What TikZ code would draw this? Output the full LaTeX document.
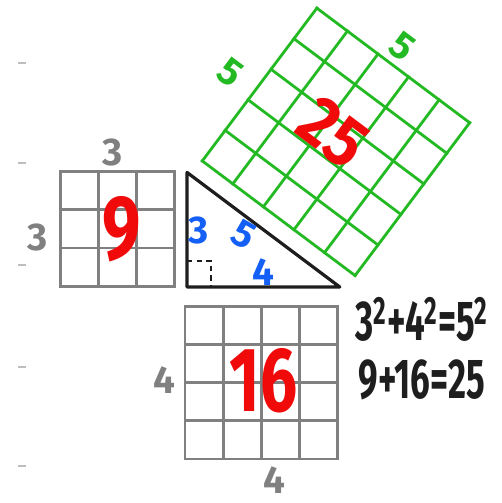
\documentclass[tikz,border=0pt]{standalone}
\usepackage{fontspec}
\setmainfont{Fira Sans}
\usetikzlibrary{positioning}
\definecolor{slate}{RGB}{128,128,128}
\definecolor{grass}{RGB}{34,185,34}
\definecolor{scarlet}{RGB}{240,10,10}
\definecolor{cobalt}{RGB}{20,95,245}
\definecolor{ink}{RGB}{30,30,30}
\definecolor{margin}{RGB}{190,190,190}
\tikzset{
  tiles/.style={#1,line width=1.6pt,line cap=rect},
  tiles/.default=slate,
  side/.style={text=#1,font=\fontsize{22}{22}\selectfont\bfseries,inner sep=0pt},
  side/.default=slate,
  area/.style={text=scarlet,font=\fontsize{#1}{#1}\selectfont\bfseries,inner sep=0pt},
  area/.default=52,
  sum/.style={text=ink,font=\fontsize{32}{32}\selectfont\bfseries,inner sep=0pt,
    xscale=0.62,transform shape},
  tick/.style={draw=margin,line width=1.2pt},
  % n by n square of unit cells
  pics/cells/.style={code={
    \foreach \i in {0,...,#1} {
      \draw (\i,0) -- (\i,#1);
      \draw (0,\i) -- (#1,\i);
    }
  }}
}

\begin{document}
\begin{tikzpicture}[x=0.764cm,y=0.764cm]
  \useasboundingbox (-4.895,-5.654) rectangle (8.22,7.513);
  % ruled page marks
  \foreach \y in {5.86,3.25,0.58,-2.09,-4.69}
    \draw[tick] (-4.42,\y) -- (-4.22,\y);
  % right triangle
  \coordinate (C) at (0,0);
  \coordinate (A) at (0,3);
  \coordinate (B) at (4,0);
  \draw[ink,line width=1.8pt,line join=round] (A) -- (C) -- (B) -- cycle;
  \draw[ink,line width=1.2pt,dash pattern=on 3pt off 2.5pt] (0,0.68) -| (0.64,0);
  \node[side=cobalt] (legA) at (0.29,1.49) {3};
  \node[side=cobalt,rotate=-30] (legC) at (1.5,1.36) {5};
  \node[side=cobalt] (legB) at (2.0,0.38) {4};
  % square on the short leg
  \pic[tiles] (sqA) at (-3.32,0.02) {cells=3};
  \node[area,xscale=0.75,transform shape] (nine) at (-1.72,1.5) {9};
  \node[side] (topA) at (-1.96,3.51) {3};
  \node[side] (leftA) at (-3.9,1.3) {3};
  % square on the long leg
  \begin{scope}[shift={(-0.05,-4.5)},yscale=1.03]
    \pic[tiles] (sqB) at (0,0) {cells=4};
  \end{scope}
  \node[area,xscale=0.72,transform shape] (sixteen) at (2.0,-2.45) {16};
  \node[side] (leftB) at (-0.58,-2.43) {4};
  \node[side] (lowB) at (2.3,-5.05) {4};
  % square on the hypotenuse
  \begin{scope}[shift={(0.4,3.3)},rotate=-36.87,transform shape]
    \pic[tiles=grass] (sqC) at (0,0) {cells=5};
    \node[area=40,xscale=0.9] (twentyfive) at (2.3,2.65) {25};
    \node[side=grass] (leftC) at (-0.8,2.3) {5};
    \node[side=grass] (topC) at (2.4,5.55) {5};
  \end{scope}
  % working
  \node[sum] (squares) at (6.15,-0.85) {3\textsuperscript{2}+4\textsuperscript{2}=5\textsuperscript{2}};
  \node[sum] (values) at (6.15,-2.43) {9+16=25};
\end{tikzpicture}
\end{document}
